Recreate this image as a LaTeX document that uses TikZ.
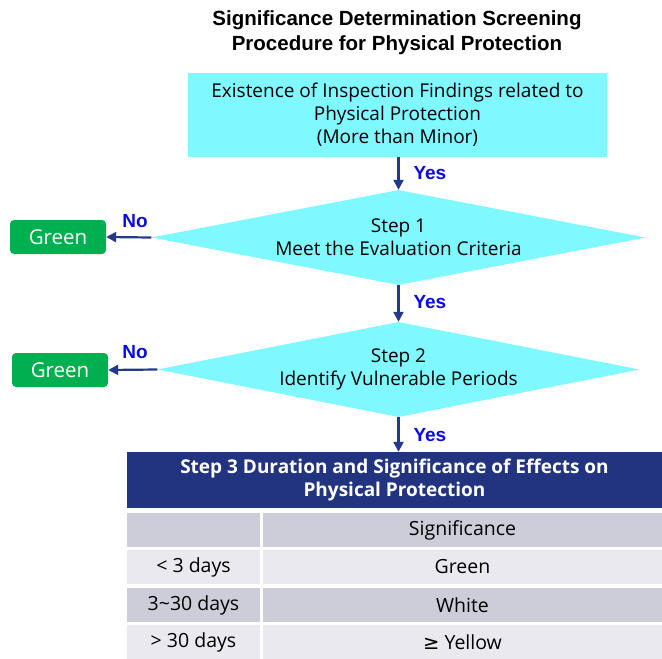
\documentclass[tikz,border=0pt]{standalone}
\usepackage{fontspec}
\setmainfont{Open Sans}
\newfontfamily\titlefont{Liberation Sans}
\newfontfamily\symfont{DejaVu Sans}
\usetikzlibrary{shapes.geometric,arrows.meta}
\definecolor{boxcyan}{HTML}{80F8FF}
\definecolor{gradegreen}{HTML}{00B050}
\definecolor{headnavy}{HTML}{22347F}
\definecolor{arrownavy}{HTML}{233A8A}
\definecolor{answerblue}{HTML}{0A0AE6}
\definecolor{rowdark}{HTML}{CDCDD9}
\definecolor{rowlight}{HTML}{E9E9EF}
\begin{document}
\begin{tikzpicture}[x=1pt, y=-1pt, >={Triangle[length=10pt,width=10pt]},
	findbox/.style={fill=boxcyan, minimum width=419pt, minimum height=84pt, align=center, font=\fontsize{19}{23}\selectfont},
	stepdiam/.style={diamond, fill=boxcyan, inner xsep=-40pt, inner ysep=-14pt, align=center, font=\fontsize{19}{23}\selectfont},
	gradebox/.style={fill=gradegreen, rounded corners=4pt, minimum width=96pt, minimum height=34pt, text=white, font=\fontsize{20.5}{22}\selectfont},
	answer/.style={text=answerblue, font=\titlefont\bfseries\fontsize{19}{20}\selectfont},
	flow/.style={->, line width=2.2pt, arrownavy},
	cell/.style={minimum height=34pt, inner sep=0pt, font=\fontsize{19.5}{22}\selectfont}]
	\useasboundingbox (0,0) rectangle (662,659);
	% title
	\node[align=center, font=\titlefont\bfseries\fontsize{20.5}{25}\selectfont] (title) at (397,33) {Significance Determination Screening\\Procedure for Physical Protection};
	% flow chart
	\node[findbox] (find) at (397.5,115) {Existence of Inspection Findings related to\\Physical Protection\\(More than Minor)};
	\node[stepdiam, aspect=5.15, minimum width=494pt, minimum height=95pt] (step1) at (398.5,237.5) {Step 1\\Meet the Evaluation Criteria};
	\node[stepdiam, aspect=5.07, minimum width=482pt, minimum height=95pt] (step2) at (398.5,369.5) {Step 2\\Identify Vulnerable Periods};
	\node[gradebox] (green1) at (58,237) {Green};
	\node[gradebox] (green2) at (60,370) {Green};
	\node[fill=headnavy, text=white, minimum width=535pt, minimum height=56pt, align=center, font=\bfseries\fontsize{19}{23}\selectfont] (step3) at (394.5,480) {Step 3 Duration and Significance of Effects on\\Physical Protection};
	% table
	\node[cell, fill=rowdark, minimum width=133pt] (h1) at (193.5,530) {};
	\node[cell, fill=rowdark, minimum width=399pt] (h2) at (462.5,530) {Significance};
	\node[cell, fill=rowlight, minimum width=133pt] (a1) at (193.5,567) {< 3 days};
	\node[cell, fill=rowlight, minimum width=399pt] (a2) at (462.5,567) {Green};
	\node[cell, fill=rowdark, minimum width=133pt] (b1) at (193.5,605) {3\textasciitilde 30 days};
	\node[cell, fill=rowdark, minimum width=399pt] (b2) at (462.5,605) {White};
	\node[cell, fill=rowlight, minimum width=133pt] (c1) at (193.5,642) {> 30 days};
	\node[cell, fill=rowlight, minimum width=399pt] (c2) at (462.5,642) {{\symfont ≥} Yellow};
	% connectors
	\draw[flow] (find.south -| step1.north) -- (step1.north);
	\draw[flow] (step1.south) -- (step2.north);
	\draw[flow] (step2.south) -- (step2.south |- step3.north);
	\draw[flow] (step1.west) -- (green1.east);
	\draw[flow] (step2.west) -- (green2.east);
	\node[answer, anchor=west] (yes1) at (410,173) {Yes};
	\node[answer, anchor=west] (yes2) at (410,302) {Yes};
	\node[answer, anchor=west] (yes3) at (410,435) {Yes};
	\node[answer] (no1) at (135,221) {No};
	\node[answer] (no2) at (135,352) {No};
\end{tikzpicture}
\end{document}
